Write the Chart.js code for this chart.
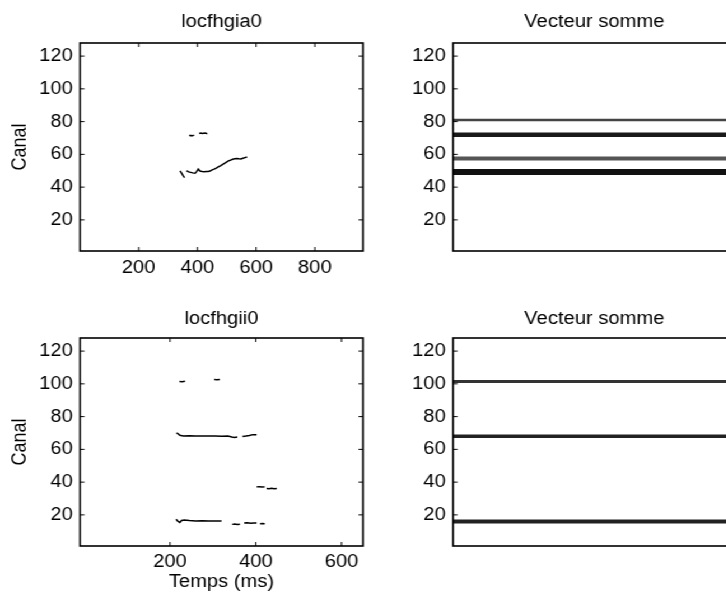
<!DOCTYPE html>
<html lang="fr">
<head>
  <meta charset="UTF-8" />
  <title>Vecteur somme</title>
  <script src="https://cdn.jsdelivr.net/npm/chart.js"></script>
  <style>
    * { margin: 0; padding: 0; box-sizing: border-box; }
    body { background: white; width: 726px; height: 597px; overflow: hidden; position: relative; }
    /* the scan is stretched sideways, so the whole figure is too */
    #fig { position: absolute; left: 0; top: 0; height: 597px; transform-origin: 0 0; }
    #fig canvas { position: absolute; }
  </style>
</head>
<body>
  <div id="fig">
    <canvas id="c1"></canvas>
    <canvas id="c2"></canvas>
    <canvas id="c3"></canvas>
    <canvas id="c4"></canvas>
  </div>

<script>
  const yTicks = [20, 40, 60, 80, 100, 120];
  const xTicksTop = [200, 400, 600, 800];
  const xTicksBottom = [200, 400, 600];

  // locfhgia0 : null in canal = gap in the trace
  const timeA = [372, 376, 380, 384, 389, 395,
                 406, 411, 416, 421, 426, 431, 434, 438,
                 341, 346, 351, 356, 358,
                 363, 370, 377, 384, 392, 398, 403, 409, 416, 423, 430, 437, 443,
                 450, 457, 464, 471, 478, 485, 492, 499, 506, 513, 520, 527, 534,
                 541, 548, 555, 562, 569];
  const canalA = [71.4, 71.6, 71.3, 71.5, 71.6, null,
                  72.8, 73, 72.7, 72.9, 73, 72.7, 72.8, null,
                  49.9, 48.5, 47, 45.8, null,
                  50, 49.3, 49, 48.7, 48.5, 49.6, 51, 49.8, 49.5, 49.4, 49.5, 49.6, 49.8,
                  50.5, 51, 51.6, 52.3, 53, 53.8, 54.5, 55.3, 56, 56.5, 57, 57.3, 57.5,
                  57.3, 57.2, 57.6, 58, 58.4, 58.5];

  // locfhgii0
  const timeB = [222, 228, 235, 240,
                 303, 309, 316, 320,
                 215, 219, 223, 231, 245, 260, 275, 290, 305, 320, 335, 344, 350, 357, 362,
                 369, 377, 385, 393, 402, 405,
                 402, 408, 415, 421, 423,
                 425, 431, 437, 443, 449, 452,
                 214, 218, 223, 227, 233, 245, 260, 275, 290, 305, 320, 330,
                 345, 351, 357, 363, 368,
                 373, 380, 388, 395, 402, 406,
                 410, 415, 421];
  const canalB = [101.4, 101.3, 101.6, null,
                  102.6, 102.5, 102.7, null,
                  70, 69.4, 68.6, 68.2, 68.3, 68.1, 68.2, 68.1, 68.2, 68, 68.1, 67.5, 67.3, 67.6, null,
                  67.8, 68.1, 68.5, 69, 68.9, null,
                  37.1, 37.2, 37, 37.1, null,
                  36.1, 36, 36.2, 36, 36.1, null,
                  17.3, 16.2, 15.4, 16.6, 16.9, 16.5, 16.3, 16.4, 16.2, 16.3, 16.2, null,
                  14.2, 14.4, 14.1, 14.3, null,
                  15, 15.2, 14.9, 15.1, 15, null,
                  14.6, 14.7, 14.6];

  // Vecteur somme : one band per canal
  const sumCanalA = [81, 72, 57.5, 49.2];
  const sumCanalB = [101.5, 68, 16];

  const bandWidthA = [2.5, 4.5, 4, 6];
  const bandColorA = ['#444', '#1a1a1a', '#555', '#111'];
  const bandWidthB = [3, 3.5, 4];
  const bandColorB = ['#333', '#222', '#222'];

  // horizontal stretch of the scan; layout below is in screen pixels
  const S = 1.12;
  const FS = 18;
  const fig = document.getElementById('fig');
  fig.style.transform = `scaleX(${S})`;
  fig.style.width = (740 / S) + 'px';

  Chart.defaults.font.family = '"Liberation Sans", Arial, sans-serif';
  Chart.defaults.font.size = FS;
  Chart.defaults.color = '#000';

  // MATLAB style box with ticks inside
  const boxPlugin = {
    id: 'matlabBox',
    afterDatasetsDraw(chart, args, opts) {
      const { ctx, chartArea: a, scales } = chart;
      const len = 4;
      ctx.save();
      ctx.strokeStyle = '#000';
      ctx.lineWidth = 1.6;
      ctx.strokeRect(a.left, a.top, a.right - a.left, a.bottom - a.top);
      ctx.lineWidth = 1;
      ctx.beginPath();
      scales.y.ticks.forEach(t => {
        const y = scales.y.getPixelForValue(t.value);
        ctx.moveTo(a.left, y); ctx.lineTo(a.left + len, y);
        ctx.moveTo(a.right, y); ctx.lineTo(a.right - len, y);
      });
      if (opts.xTicks) {
        scales.x.ticks.forEach(t => {
          const x = scales.x.getPixelForValue(t.value);
          ctx.moveTo(x, a.bottom); ctx.lineTo(x, a.bottom - len);
          ctx.moveTo(x, a.top); ctx.lineTo(x, a.top + len);
        });
      }
      ctx.stroke();
      ctx.restore();
    }
  };

  function trace(times, canals) {
    return [{
      data: times.map((t, i) => ({ x: t, y: canals[i] })),
      showLine: true,
      spanGaps: false,
      borderColor: '#000',
      borderWidth: 1.5,
      pointRadius: 0
    }];
  }

  function bands(canals, widths, colors, xMin, xMax) {
    return canals.map((c, i) => ({
      data: [{ x: xMin, y: c }, { x: xMax, y: c }],
      showLine: true,
      borderColor: colors[i],
      borderWidth: widths[i],
      pointRadius: 0
    }));
  }

  // p: screen box of the canvas and of the plot area
  function panel(id, p, cfg) {
    const canvas = document.getElementById(id);
    const cLeft = p.canvasLeft / S;
    const cWidth = Math.round(p.canvasRight / S - cLeft);
    canvas.width = cWidth;
    canvas.height = p.canvasBottom - p.canvasTop;
    canvas.style.left = cLeft + 'px';
    canvas.style.top = p.canvasTop + 'px';
    const yWidth = p.areaLeft / S - cLeft;
    const padRight = cWidth - (p.areaRight / S - cLeft);
    const xHeight = p.canvasBottom - p.areaBottom;
    const lh = FS * 1.2;
    const titleTop = p.titleCenter - p.canvasTop - lh / 2;
    const titleBottom = p.areaTop - p.canvasTop - lh - titleTop;

    new Chart(canvas, {
      type: 'scatter',
      data: { datasets: cfg.datasets },
      plugins: [boxPlugin],
      options: {
        responsive: false,
        animation: false,
        devicePixelRatio: 1,
        layout: { padding: { left: 0, right: padRight, top: 0, bottom: 0 } },
        plugins: {
          legend: { display: false },
          tooltip: { enabled: false },
          title: {
            display: true,
            text: cfg.title,
            fullSize: false,
            font: { size: FS, weight: 'normal' },
            padding: { top: titleTop, bottom: titleBottom }
          },
          matlabBox: { xTicks: !!cfg.xTicks }
        },
        scales: {
          x: {
            type: 'linear',
            min: cfg.xMin,
            max: cfg.xMax,
            grid: { display: false, drawTicks: false },
            border: { display: false },
            afterBuildTicks: s => { s.ticks = (cfg.xTicks || []).map(v => ({ value: v })); },
            afterFit: s => { s.height = xHeight; },
            ticks: { display: !!cfg.xTicks, padding: cfg.xLabelPad, maxRotation: 0 },
            title: {
              display: !!cfg.xTitle,
              text: cfg.xTitle || '',
              font: { size: FS },
              padding: { top: 0, bottom: 4.5 }
            }
          },
          y: {
            min: 1,
            max: 128,
            grid: { display: false, drawTicks: false },
            border: { display: false },
            afterBuildTicks: s => { s.ticks = yTicks.map(v => ({ value: v })); },
            afterFit: s => { s.width = yWidth; },
            ticks: { padding: 7.3 / S },
            title: {
              display: !!cfg.yTitle,
              text: cfg.yTitle || '',
              font: { size: FS },
              padding: { top: 20 / S - lh / 2, bottom: 0 }
            }
          }
        }
      }
    });
  }

  const topRow = { canvasTop: 0, canvasBottom: 290, areaTop: 43, areaBottom: 251, titleCenter: 22 };
  const bottomRow = { canvasTop: 290, canvasBottom: 597, areaTop: 338, areaBottom: 546, titleCenter: 319.5 };
  const leftCol = { canvasLeft: 0, canvasRight: 378, areaLeft: 80, areaRight: 363 };
  const rightCol = { canvasLeft: 378, canvasRight: 740, areaLeft: 452.5, areaRight: 735 };

  panel('c1', { ...topRow, ...leftCol }, {
    title: 'locfhgia0', datasets: trace(timeA, canalA),
    xMin: 0, xMax: 964, xTicks: xTicksTop, xLabelPad: 6.5, yTitle: 'Canal'
  });
  panel('c2', { ...topRow, ...rightCol }, {
    title: 'Vecteur somme', datasets: bands(sumCanalA, bandWidthA, bandColorA, 0, 964),
    xMin: 0, xMax: 964
  });
  panel('c3', { ...bottomRow, ...leftCol }, {
    title: 'locfhgii0', datasets: trace(timeB, canalB),
    xMin: -10, xMax: 650, xTicks: xTicksBottom, xLabelPad: 5, xTitle: 'Temps (ms)', yTitle: 'Canal'
  });
  panel('c4', { ...bottomRow, ...rightCol }, {
    title: 'Vecteur somme', datasets: bands(sumCanalB, bandWidthB, bandColorB, -10, 650),
    xMin: -10, xMax: 650
  });
</script>
</body>
</html>
